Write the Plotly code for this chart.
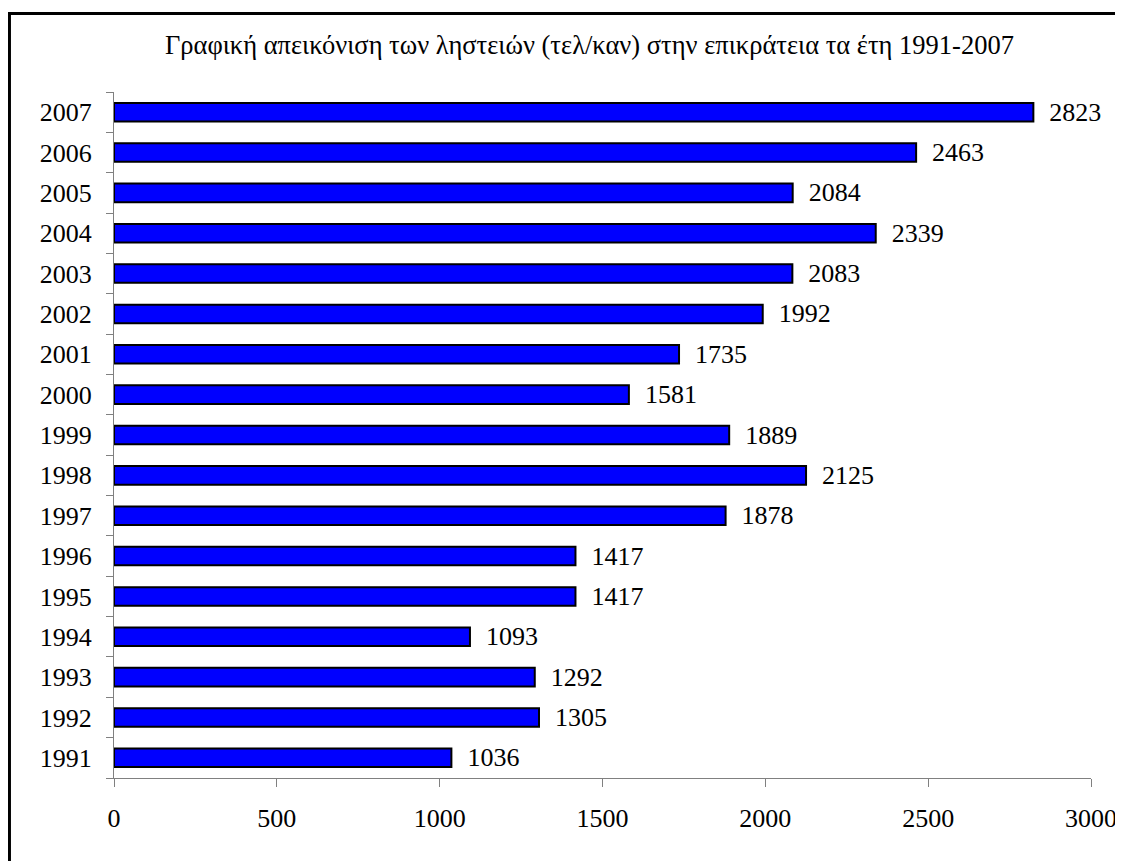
import plotly.graph_objects as go

years = ["1991", "1992", "1993", "1994", "1995", "1996", "1997", "1998", "1999",
         "2000", "2001", "2002", "2003", "2004", "2005", "2006", "2007"]
values = [1036, 1305, 1292, 1093, 1417, 1417, 1878, 2125, 1889,
          1581, 1735, 1992, 2083, 2339, 2084, 2463, 2823]
x_ticks = [0, 500, 1000, 1500, 2000, 2500, 3000]
title_text = "Γραφική απεικόνιση των ληστειών (τελ/καν) στην επικράτεια τα έτη 1991-2007"

FONT = "Liberation Serif, Times New Roman, serif"

fig = go.Figure()
fig.add_trace(go.Bar(
    y=years, x=values, orientation="h",
    marker=dict(color="#0000FF", line=dict(color="black", width=2)),
    width=0.46,
    text=["\u00a0\u00a0" + str(v) for v in values], textposition="outside",
    constraintext="none",
    textfont=dict(family=FONT, size=26, color="black"),
    cliponaxis=False,
))

fig.update_layout(
    width=1115, height=853,
    margin=dict(l=106, r=32, t=84, b=83, autoexpand=False),
    paper_bgcolor="white", plot_bgcolor="white",
    showlegend=False,
    font=dict(family=FONT, color="black"),
    annotations=[dict(
        text=title_text, xref="paper", yref="paper",
        x=0.487, y=1.0685, xanchor="center", yanchor="middle",
        showarrow=False, font=dict(family=FONT, size=26.5, color="black"),
    )],
    shapes=[dict(
        type="rect", xref="paper", yref="paper",
        x0=-0.107, x1=1.05, y0=-0.2, y1=1.1144,
        line=dict(color="black", width=3), fillcolor="rgba(0,0,0,0)",
        layer="below",
    )],
)

fig.update_xaxes(
    range=[0, 3000], tickvals=x_ticks, ticktext=[str(t) for t in x_ticks],
    showgrid=False, zeroline=False, automargin=False,
    showline=True, linecolor="#808080", linewidth=1,
    ticks="outside", ticklen=8, tickcolor="#808080",
    tickfont=dict(family=FONT, size=26, color="black"),
    ticklabelstandoff=9,
)
fig.update_yaxes(
    type="category", categoryorder="array", categoryarray=years,
    showgrid=False, zeroline=False, automargin=False,
    showline=True, linecolor="#808080", linewidth=1,
    ticks="outside", ticklen=7, tickcolor="#808080", tickson="boundaries",
    tickfont=dict(family=FONT, size=26, color="black"),
    ticklabelstandoff=16,
)

fig.write_html("out.html")
